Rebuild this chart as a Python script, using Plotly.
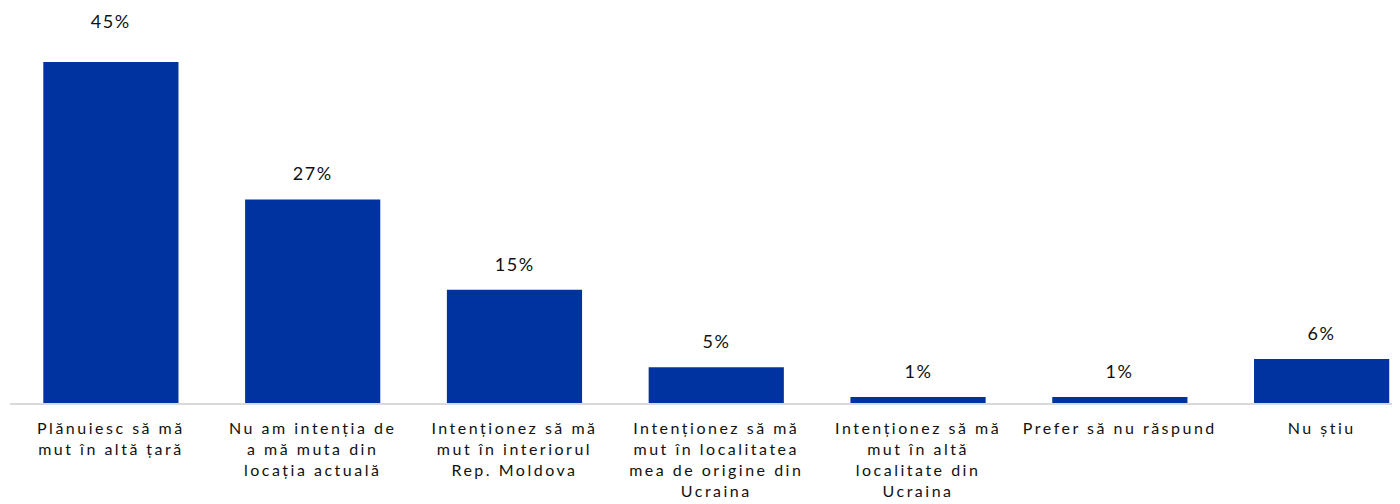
import plotly.graph_objects as go

categories = [
    "Plănuiesc să mă<br>mut în altă țară",
    "Nu am intenția de<br>a mă muta din<br>locația actuală",
    "Intenționez să mă<br>mut în interiorul<br>Rep. Moldova",
    "Intenționez să mă<br>mut în localitatea<br>mea de origine din<br>Ucraina",
    "Intenționez să mă<br>mut în altă<br>localitate din<br>Ucraina",
    "Prefer să nu răspund",
    "Nu știu",
]
values = [45, 27, 15, 5, 1, 1, 6]
bar_heights = [44.9, 26.8, 14.9, 4.7, 0.8, 0.8, 5.8]
labels = ["45%", "27%", "15%", "5%", "1%", "1%", "6%"]

BLUE = "#0033A0"
FONT = "Lato"

fig = go.Figure()
fig.add_trace(go.Bar(
    x=categories, y=bar_heights, marker=dict(color=BLUE, line=dict(width=0)),
    width=0.67, hoverinfo="skip",
))

top = max(bar_heights)
annotations = []
for c, h, t in zip(categories, bar_heights, labels):
    annotations.append(dict(
        x=c, y=h, text=t, showarrow=False, xref="x", yref="y",
        yanchor="bottom", yshift=28 if h == top else 13,
        font=dict(family=FONT, size=18, color="#111111"),
    ))

fig.update_layout(
    width=1400, height=504,
    margin=dict(l=2, r=0, t=0, b=109),
    plot_bgcolor="white", paper_bgcolor="white",
    showlegend=False,
    annotations=annotations,
    xaxis=dict(
        range=[-0.5, 6.428], showgrid=False, zeroline=False,
        showline=True, linecolor="#d9d9d9", linewidth=2,
        ticks="", tickfont=dict(family=FONT, size=16, color="#111111"),
        tickangle=0, ticklabelstandoff=10,
    ),
    yaxis=dict(range=[0, 52], visible=False, showgrid=False, zeroline=False),
)

post = """
var s = document.createElement('style');
s.textContent = '.xtick text { letter-spacing: 2.5px; } .annotation-text { letter-spacing: 1.5px; }';
document.head.appendChild(s);
"""

fig.write_html("out.html", post_script=post)
